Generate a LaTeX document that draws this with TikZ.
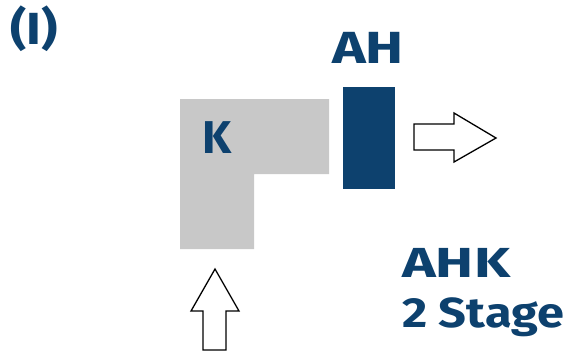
\documentclass[tikz,border=0pt]{standalone}
\usepackage{fontspec}
\setmainfont{Fira Sans}
\definecolor{navy}{HTML}{0D416E}
\definecolor{lgray}{HTML}{C8C8C8}
\begin{document}
\begin{tikzpicture}[x=1pt,y=-1pt,
  lbl/.style={anchor=base west,inner sep=0pt,text=navy,font=\bfseries\fontsize{#1}{#1}\selectfont},
  blockarrow/.style={draw=black,fill=white,line width=1.3pt,line join=miter}]
\useasboundingbox (0,0) rectangle (567,354);
% L-shaped block K
\fill[lgray] (180,99) -- (329,99) -- (329,174) -- (254,174) -- (254,249) -- (180,249) -- cycle;
% AH block
\fill[navy] (343,87) rectangle (395,189);
% right arrow
\draw[blockarrow] (414,124) -- (454,124) -- (454,113) -- (496,138) -- (454,162) -- (454,150) -- (414,150) -- cycle;
% up arrow
\draw[blockarrow] (203,350) -- (203,311) -- (191,311) -- (215,269) -- (239,311) -- (226,311) -- (226,350) -- cycle;
% labels
\node[lbl=45,xscale=1.12] (roman) at (10,44) {(I)};
\node[lbl=45,xscale=1.27] (ah) at (332,63) {AH};
\node[lbl=46] (k) at (202,153) {K};
\node[lbl=42,xscale=1.36] (ahk) at (402,277) {AHK};
\node[lbl=42,xscale=1.16] (stage) at (402,327) {2 Stage};
\end{tikzpicture}
\end{document}
